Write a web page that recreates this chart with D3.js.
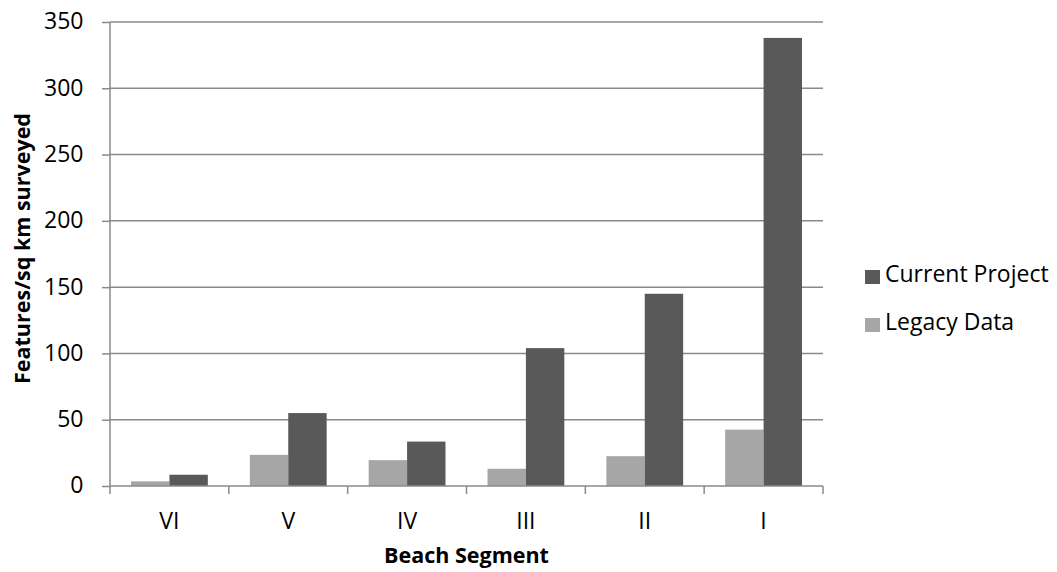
<!DOCTYPE html>
<html>
<head>
<meta charset="utf-8">
<script src="https://cdn.jsdelivr.net/npm/d3@7"></script>
<style>
  html, body { margin: 0; padding: 0; background: #fff; }
  svg { display: block; }
  text { font-family: "Open Sans", "DejaVu Sans", sans-serif; fill: #000; }
</style>
</head>
<body>
<svg id="chart" width="1057" height="572"></svg>
<script>
const categories = ["VI", "V", "IV", "III", "II", "I"];
const seriesNames = ["Legacy Data", "Current Project"];
const legacyData = [3.5, 23.5, 19.5, 13, 22.5, 42.5];
const currentProject = [8.5, 55, 33.5, 104, 145, 338];
const yTicks = [0, 50, 100, 150, 200, 250, 300, 350];
const colors = { "Current Project": "#595959", "Legacy Data": "#a6a6a6" };
const legendOrder = ["Current Project", "Legacy Data"];

const svg = d3.select("#chart");
const margin = { left: 110, right: 234, top: 22, bottom: 86 };
const W = 1057, H = 572;
const x0 = margin.left, x1 = W - margin.right, y0 = H - margin.bottom, y1 = margin.top;

const x = d3.scaleBand().domain(categories).range([x0, x1]).padding(0);
const xs = d3.scaleBand().domain(seriesNames).range([0, x.bandwidth()])
  .paddingInner(0).paddingOuter(0.547);
const y = d3.scaleLinear().domain([0, 350]).range([y0, y1]);

const gridColor = "#8a8a8a";

// gridlines + y ticks
const yAxis = d3.axisLeft(y).tickValues(yTicks).tickSize(8).tickPadding(18.5).tickFormat(d3.format("d"));
const gy = svg.append("g").attr("transform", `translate(${x0},0)`).call(yAxis);
gy.select(".domain").remove();
gy.selectAll(".tick line").attr("stroke", gridColor).attr("stroke-width", 1.5);
gy.selectAll(".tick text").style("font-size", "23px").attr("fill", "#000").attr("dy", "0.3em");

svg.append("g").selectAll("line").data(yTicks.filter(d => d > 0)).join("line")
  .attr("x1", x0).attr("x2", x1)
  .attr("y1", d => y(d)).attr("y2", d => y(d))
  .attr("stroke", gridColor).attr("stroke-width", 1.5);

// bars
const rows = categories.map((c, i) => ({ cat: c, "Legacy Data": legacyData[i], "Current Project": currentProject[i] }));
svg.append("g").selectAll("g").data(rows).join("g")
  .attr("transform", d => `translate(${x(d.cat)},0)`)
  .selectAll("rect").data(d => seriesNames.map(s => ({ s, v: d[s] }))).join("rect")
  .attr("x", d => xs(d.s)).attr("width", xs.bandwidth())
  .attr("y", d => y(d.v)).attr("height", d => y0 - y(d.v))
  .attr("fill", d => colors[d.s]);

// y axis line
svg.append("line").attr("x1", x0).attr("x2", x0).attr("y1", y1).attr("y2", y0)
  .attr("stroke", gridColor).attr("stroke-width", 1.5);

// x axis
svg.append("line").attr("x1", x0).attr("x2", x1).attr("y1", y0).attr("y2", y0)
  .attr("stroke", gridColor).attr("stroke-width", 1.5);
const boundaries = categories.map(c => x(c)).concat([x1]);
svg.append("g").selectAll("line").data(boundaries).join("line")
  .attr("x1", d => d).attr("x2", d => d).attr("y1", y0).attr("y2", y0 + 8)
  .attr("stroke", gridColor).attr("stroke-width", 1.5);
svg.append("g").selectAll("text").data(categories).join("text")
  .attr("x", d => x(d) + x.bandwidth() / 2).attr("y", y0 + 42.5)
  .attr("text-anchor", "middle").style("font-size", "23px").text(d => d);

// axis titles
svg.append("text").attr("x", (x0 + x1) / 2).attr("y", 563).attr("text-anchor", "middle")
  .style("font-size", "21.5px").style("font-weight", "bold").text("Beach Segment");
svg.append("text").attr("transform", `translate(29.5,248.5) rotate(-90)`)
  .attr("text-anchor", "middle").style("font-size", "21.5px").style("font-weight", "bold")
  .text("Features/sq km surveyed");

// legend
const lg = svg.append("g").attr("transform", "translate(865,0)");
legendOrder.forEach((s, i) => {
  const cy = 277 + i * 48;
  lg.append("rect").attr("x", 0).attr("y", cy - 7).attr("width", 15).attr("height", 14).attr("fill", colors[s]);
  lg.append("text").attr("x", 20).attr("y", cy + 5).style("font-size", "23px").text(s);
});
</script>
</body>
</html>
